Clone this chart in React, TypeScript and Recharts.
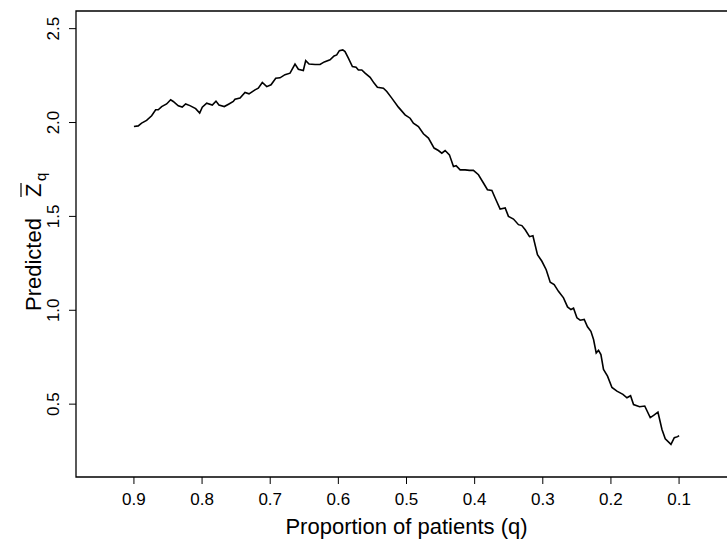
import { LineChart, Line, XAxis, YAxis, ReferenceArea, Label } from "recharts";

// proportion of patients (q), read right-to-left on the axis
const qValues = [
  0.9, 0.8937, 0.8887, 0.8814, 0.874, 0.8681, 0.8643, 0.8593, 0.852, 0.8461,
  0.8423, 0.8349, 0.8291, 0.8241, 0.8178, 0.8094, 0.8035, 0.7997, 0.7932, 0.785,
  0.7796, 0.7752, 0.7674, 0.7605, 0.7542, 0.7517, 0.7443, 0.737, 0.7311, 0.7223,
  0.7175, 0.7116, 0.7051, 0.6988, 0.6919, 0.6856, 0.6783, 0.6709, 0.6636, 0.6587,
  0.6514, 0.6479, 0.643, 0.6342, 0.6269, 0.6206, 0.6122, 0.6063, 0.6024, 0.5985,
  0.5935, 0.5902, 0.5853, 0.5794, 0.574, 0.5706, 0.5656, 0.5608, 0.5534, 0.5476,
  0.5427, 0.5339, 0.5289, 0.5216, 0.5119, 0.5021, 0.4947, 0.4899, 0.4825, 0.4752,
  0.4678, 0.4595, 0.4532, 0.4482, 0.4433, 0.437, 0.4311, 0.4272, 0.4213, 0.414,
  0.4076, 0.4018, 0.3944, 0.3871, 0.3812, 0.3747, 0.3699, 0.3626, 0.3552, 0.3504,
  0.343, 0.3357, 0.3307, 0.3258, 0.3195, 0.3145, 0.3078, 0.3013, 0.295, 0.2891,
  0.2833, 0.277, 0.2696, 0.2637, 0.2587, 0.2549, 0.2499, 0.2451, 0.2392, 0.2344,
  0.2294, 0.2255, 0.2216, 0.2182, 0.2147, 0.2109, 0.205, 0.1985, 0.1912, 0.1824,
  0.1765, 0.1712, 0.1668, 0.158, 0.1504, 0.1423, 0.1374, 0.131, 0.1251, 0.1203,
  0.1119, 0.107, 0.1021, 0.1,
];

// predicted mean Z for each q
const zValues = [
  1.979, 1.982, 1.997, 2.011, 2.036, 2.068, 2.068, 2.085, 2.099, 2.121,
  2.112, 2.089, 2.082, 2.099, 2.09, 2.074, 2.05, 2.082, 2.103, 2.093,
  2.114, 2.093, 2.085, 2.099, 2.112, 2.124, 2.131, 2.16, 2.153, 2.174,
  2.183, 2.213, 2.191, 2.201, 2.236, 2.238, 2.255, 2.263, 2.311, 2.284,
  2.277, 2.33, 2.312, 2.309, 2.309, 2.323, 2.334, 2.355, 2.36, 2.383,
  2.387, 2.378, 2.343, 2.298, 2.295, 2.28, 2.28, 2.263, 2.241, 2.21,
  2.188, 2.183, 2.165, 2.13, 2.082, 2.041, 2.023, 1.997, 1.979, 1.94,
  1.917, 1.864, 1.851, 1.837, 1.851, 1.828, 1.766, 1.77, 1.748, 1.748,
  1.745, 1.745, 1.722, 1.678, 1.642, 1.638, 1.598, 1.539, 1.545, 1.5,
  1.486, 1.456, 1.451, 1.429, 1.392, 1.397, 1.296, 1.261, 1.216, 1.149,
  1.137, 1.101, 1.066, 1.018, 1.004, 1.011, 0.96, 0.947, 0.951, 0.912,
  0.888, 0.844, 0.773, 0.787, 0.764, 0.685, 0.649, 0.589, 0.569, 0.552,
  0.534, 0.545, 0.498, 0.486, 0.49, 0.428, 0.44, 0.457, 0.365, 0.316,
  0.286, 0.321, 0.327, 0.333,
];

const xTicks = [0.9, 0.8, 0.7, 0.6, 0.5, 0.4, 0.3, 0.2, 0.1];
const yTicks = [0.5, 1.0, 1.5, 2.0, 2.5];

const X_DOMAIN: [number, number] = [0.015, 0.985];
const Y_DOMAIN: [number, number] = [0.112, 2.594];

const data = qValues.map((q, i) => ({ q, z: zValues[i] }));

const FONT = "'Liberation Sans', Arial, Helvetica, sans-serif";

const XTick = ({ x, payload }: any) => (
  <text x={x} y={505} textAnchor="middle" fontSize={17} fontFamily={FONT} fill="#000">
    {Number(payload.value).toFixed(1)}
  </text>
);

const YTick = ({ y, payload }: any) => (
  <text
    x={59}
    y={y}
    transform={`rotate(-90, 59, ${y})`}
    textAnchor="middle"
    fontSize={17}
    fontFamily={FONT}
    fill="#000"
  >
    {Number(payload.value).toFixed(1)}
  </text>
);

const XTitle = () => (
  <text x={406.5} y={534} textAnchor="middle" fontSize={22} fontFamily={FONT} fill="#000">
    Proportion of patients (q)
  </text>
);

// rotated title: "Predicted", then Z with a bar, then subscript q
const YTitle = () => (
  <g transform="rotate(-90, 41, 311)" fontFamily={FONT} fill="#000">
    <text x={41} y={311} fontSize={22}>Predicted</text>
    <text x={155} y={311} fontSize={22}>Z</text>
    <line x1={155} x2={169} y1={291} y2={291} stroke="#000" strokeWidth={1.2} />
    <text x={171} y={316} fontSize={15}>q</text>
  </g>
);

export default function App() {
  return (
    <div
      style={{
        position: "absolute",
        left: 0,
        top: 0,
        width: 727,
        height: 542,
        overflow: "hidden",
        background: "#fff",
      }}
    >
      <LineChart
        width={760}
        height={542}
        data={data}
        margin={{ top: 11, right: 23, bottom: 0, left: 0 }}
      >
        <XAxis
          dataKey="q"
          type="number"
          domain={X_DOMAIN}
          reversed
          allowDataOverflow
          ticks={xTicks}
          interval={0}
          height={65}
          axisLine={false}
          tickSize={7}
          tickLine={{ stroke: "#000", strokeWidth: 1 }}
          tick={<XTick />}
        >
          <Label content={<XTitle />} />
        </XAxis>
        <YAxis
          type="number"
          domain={Y_DOMAIN}
          allowDataOverflow
          ticks={yTicks}
          interval={0}
          width={76}
          axisLine={false}
          tickSize={7}
          tickLine={{ stroke: "#000", strokeWidth: 1 }}
          tick={<YTick />}
        >
          <Label content={<YTitle />} />
        </YAxis>
        <ReferenceArea
          x1={X_DOMAIN[1]}
          x2={X_DOMAIN[0]}
          y1={Y_DOMAIN[0]}
          y2={Y_DOMAIN[1]}
          fill="none"
          fillOpacity={0}
          stroke="#000"
          strokeWidth={1.3}
          ifOverflow="visible"
        />
        <Line
          type="linear"
          dataKey="z"
          stroke="#000"
          strokeWidth={1.6}
          dot={false}
          isAnimationActive={false}
        />
      </LineChart>
    </div>
  );
}
